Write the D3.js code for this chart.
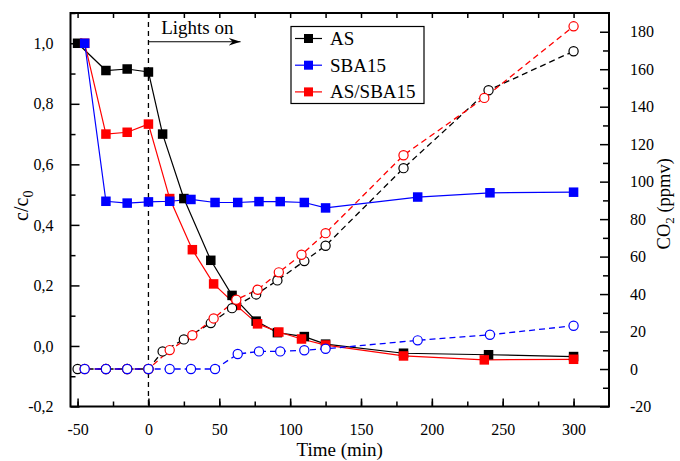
<!DOCTYPE html>
<html><head><meta charset="utf-8">
<script src="https://cdn.jsdelivr.net/npm/d3@7"></script>
<style>
html,body{margin:0;padding:0;background:#fff;}
</style></head>
<body>
<svg id="chart" width="680" height="461"></svg>
<script>
// ---- data ----
const asTime   = [-50, -30, -15, 0, 10, 25, 44, 59, 76, 91, 110, 125, 180, 240, 300];
const asConc   = [1.0, 0.91, 0.915, 0.905, 0.70, 0.487, 0.283, 0.167, 0.082, 0.044, 0.031, 0.006, -0.024, -0.029, -0.035];
const asCO2    = [0, 0, 0, 0, 9.4, 15.8, 24.5, 32.5, 39.8, 47.3, 57.6, 65.8, 107.2, 148.8, 169.6];

const mixTime  = [-45, -30, -15, 0, 15, 31, 46, 62, 77, 92, 108, 125, 180, 237, 300];
const mixConc  = [1.0, 0.70, 0.706, 0.733, 0.487, 0.318, 0.205, 0.134, 0.073, 0.046, 0.023, 0.003, -0.033, -0.046, -0.044];
const mixCO2   = [0, 0, 0, 0, 10.1, 18, 27, 37, 42.3, 51.6, 61, 72.5, 114.1, 144.7, 182.9];

const sbaTime  = [-45, -30, -15, 0, 15, 30, 47, 63, 78, 93, 110, 125, 190, 241, 300];
const sbaConc  = [1.0, 0.478, 0.472, 0.476, 0.478, 0.484, 0.474, 0.474, 0.477, 0.477, 0.474, 0.456, 0.492, 0.506, 0.508];
const sbaCO2   = [0, 0, 0, 0, 0, 0, 0, 8.0, 9.4, 9.4, 10, 10.8, 15.3, 18.3, 23.1];

const seriesNames = ["AS", "SBA15", "AS/SBA15"];
const xTicks = [-50, 0, 50, 100, 150, 200, 250, 300];
const yLeftTicks = [-0.2, 0.0, 0.2, 0.4, 0.6, 0.8, 1.0];
const yRightTicks = [-20, 0, 20, 40, 60, 80, 100, 120, 140, 160, 180];

// ---- layout ----
const FONT = "'Liberation Serif', Tinos, 'Times New Roman', 'DejaVu Serif', serif";
const L = 70.5, R = 609, T = 13, B = 406.5;
const svg = d3.select("#chart");

const x = d3.scaleLinear().domain([-55, 325]).range([L, R]);
const yL = d3.scaleLinear().domain([-0.2, 1.1]).range([B, T]);
const yR = d3.scaleLinear().domain([-20, 190]).range([B, T]);

const fmtComma = d => d3.format(".1f")(d).replace(".", ",");

function styleAxis(g){
  g.attr("font-family", FONT);
  g.selectAll("path.domain").remove();
  g.selectAll(".tick line").attr("stroke", "#000").attr("stroke-width", 1.5);
  g.selectAll(".tick text").attr("font-family", FONT).style("font-family", FONT).style("font-size", "16px").attr("fill", "#000");
}
// bottom
svg.append("g").attr("transform", `translate(0,${B})`)
  .call(d3.axisBottom(x).tickValues(d3.range(-50, 325, 25)).tickSize(-5).tickFormat(""))
  .call(styleAxis);
svg.append("g").attr("transform", `translate(0,${B})`)
  .call(d3.axisBottom(x).tickValues(xTicks).tickSize(-8).tickPadding(17).tickFormat(d => d < 0 ? "-" + Math.abs(d) : d))
  .call(styleAxis);
// top
svg.append("g").attr("transform", `translate(0,${T})`)
  .call(d3.axisTop(x).tickValues(d3.range(-50, 325, 25)).tickSize(-5).tickFormat(""))
  .call(styleAxis);
// left
svg.append("g").attr("transform", `translate(${L},0)`)
  .call(d3.axisLeft(yL).tickValues(d3.range(-0.1, 1.1, 0.2)).tickSize(-5).tickFormat(""))
  .call(styleAxis);
svg.append("g").attr("transform", `translate(${L},0)`)
  .call(d3.axisLeft(yL).tickValues(yLeftTicks).tickSize(-9).tickPadding(17).tickFormat(d => d < 0 ? "-" + fmtComma(-d) : fmtComma(d)))
  .call(styleAxis);
// right
svg.append("g").attr("transform", `translate(${R},0)`)
  .call(d3.axisRight(yR).tickValues(d3.range(-10, 190, 20)).tickSize(-6).tickFormat(""))
  .call(styleAxis);
svg.append("g").attr("transform", `translate(${R},0)`)
  .call(d3.axisRight(yR).tickValues(yRightTicks).tickSize(-9).tickPadding(21).tickFormat(d => d < 0 ? "-" + Math.abs(d) : d))
  .call(styleAxis);

// frame
svg.append("rect").attr("x", L).attr("y", T).attr("width", R - L).attr("height", B - T)
  .attr("fill", "none").attr("stroke", "#000").attr("stroke-width", 2);

// lights on line
svg.append("line").attr("x1", x(0)).attr("x2", x(0)).attr("y1", T).attr("y2", B)
  .attr("stroke", "#000").attr("stroke-width", 1.3).attr("stroke-dasharray", "5,4");

// arrow
svg.append("defs").append("marker").attr("id", "arr").attr("viewBox", "0 0 12 10")
  .attr("refX", 12).attr("refY", 5).attr("markerWidth", 12).attr("markerHeight", 10)
  .attr("markerUnits", "userSpaceOnUse").attr("orient", "auto")
  .append("path").attr("d", "M0,1 L12,5 L0,9 L4,5 Z").attr("fill", "#000");
svg.append("line").attr("x1", x(0)).attr("x2", x(65)).attr("y1", yL(1.005)).attr("y2", yL(1.005))
  .attr("stroke", "#000").attr("stroke-width", 1.2).attr("marker-end", "url(#arr)");
svg.append("text").attr("x", x(9)).attr("y", yL(1.032)).style("font-family", FONT).style("font-size", "19px").text("Lights on");

// series
const series = [
  {name: seriesNames[0], color: "#000000", t: asTime, c: asConc, co2: asCO2},
  {name: seriesNames[2], color: "#ff0000", t: mixTime, c: mixConc, co2: mixCO2},
  {name: seriesNames[1], color: "#0000ff", t: sbaTime, c: sbaConc, co2: sbaCO2}
];

const lineL = d3.line().x(d => x(d[0])).y(d => yL(d[1]));
const lineR = d3.line().x(d => x(d[0])).y(d => yR(d[1]));
const plot = svg.append("g");

series.forEach(s => {
  const pts = s.t.map((t, i) => [t, s.c[i]]);
  plot.append("path").attr("d", lineL(pts)).attr("fill", "none")
    .attr("stroke", s.color).attr("stroke-width", 1.2);
});
series.forEach(s => {
  const pts = s.t.map((t, i) => [t, s.co2[i]]);
  plot.append("path").attr("d", lineR(pts)).attr("fill", "none")
    .attr("stroke", s.color).attr("stroke-width", 1.3).attr("stroke-dasharray", "6,4");
});
const sq = 9.5;
series.forEach(s => {
  plot.append("g").selectAll("rect").data(s.t.map((t, i) => [t, s.c[i]])).join("rect")
    .attr("x", d => x(d[0]) - sq / 2).attr("y", d => yL(d[1]) - sq / 2)
    .attr("width", sq).attr("height", sq).attr("fill", s.color);
});
series.forEach(s => {
  plot.append("g").selectAll("circle").data(s.t.map((t, i) => [t, s.co2[i]])).join("circle")
    .attr("cx", d => x(d[0])).attr("cy", d => yR(d[1])).attr("r", 4.6)
    .attr("fill", "#fff").attr("stroke", s.color).attr("stroke-width", 1.2);
});

// axis titles
svg.append("text").attr("x", (L + R) / 2).attr("y", 456).attr("text-anchor", "middle")
  .style("font-family", FONT).style("font-size", "19px").text("Time (min)");
const lt = svg.append("text").attr("transform", `translate(28,${(T + B) / 2 - 4}) rotate(-90)`)
  .attr("text-anchor", "middle").style("font-family", FONT).style("font-size", "20px");
lt.append("tspan").text("c/c");
lt.append("tspan").attr("dy", 5).style("font-size", "14px").text("0");
const rt = svg.append("text").attr("transform", `translate(670,${(T + B) / 2 - 6}) rotate(-90)`)
  .attr("text-anchor", "middle").style("font-family", FONT).style("font-size", "18.5px");
rt.append("tspan").text("CO");
rt.append("tspan").attr("dy", 4).style("font-size", "13px").text("2");
rt.append("tspan").attr("dy", -4).text(" (ppmv)");

// legend
const lg = svg.append("g");
lg.append("rect").attr("x", 291).attr("y", 26.5).attr("width", 133).attr("height", 77)
  .attr("fill", "#fff").attr("stroke", "#000").attr("stroke-width", 1.2);
const legendItems = [
  {name: seriesNames[0], color: "#000000"},
  {name: seriesNames[1], color: "#0000ff"},
  {name: seriesNames[2], color: "#ff0000"}
];
legendItems.forEach((it, i) => {
  const cy = 38.5 + i * 26.7;
  lg.append("line").attr("x1", 295).attr("x2", 322).attr("y1", cy).attr("y2", cy)
    .attr("stroke", it.color).attr("stroke-width", 1.2);
  lg.append("rect").attr("x", 308.5 - 4.5).attr("y", cy - 4.5).attr("width", 9).attr("height", 9).attr("fill", it.color);
  lg.append("text").attr("x", 330).attr("y", cy + 6.5).style("font-family", FONT).style("font-size", "19px").text(it.name);
});
</script>
</body></html>
